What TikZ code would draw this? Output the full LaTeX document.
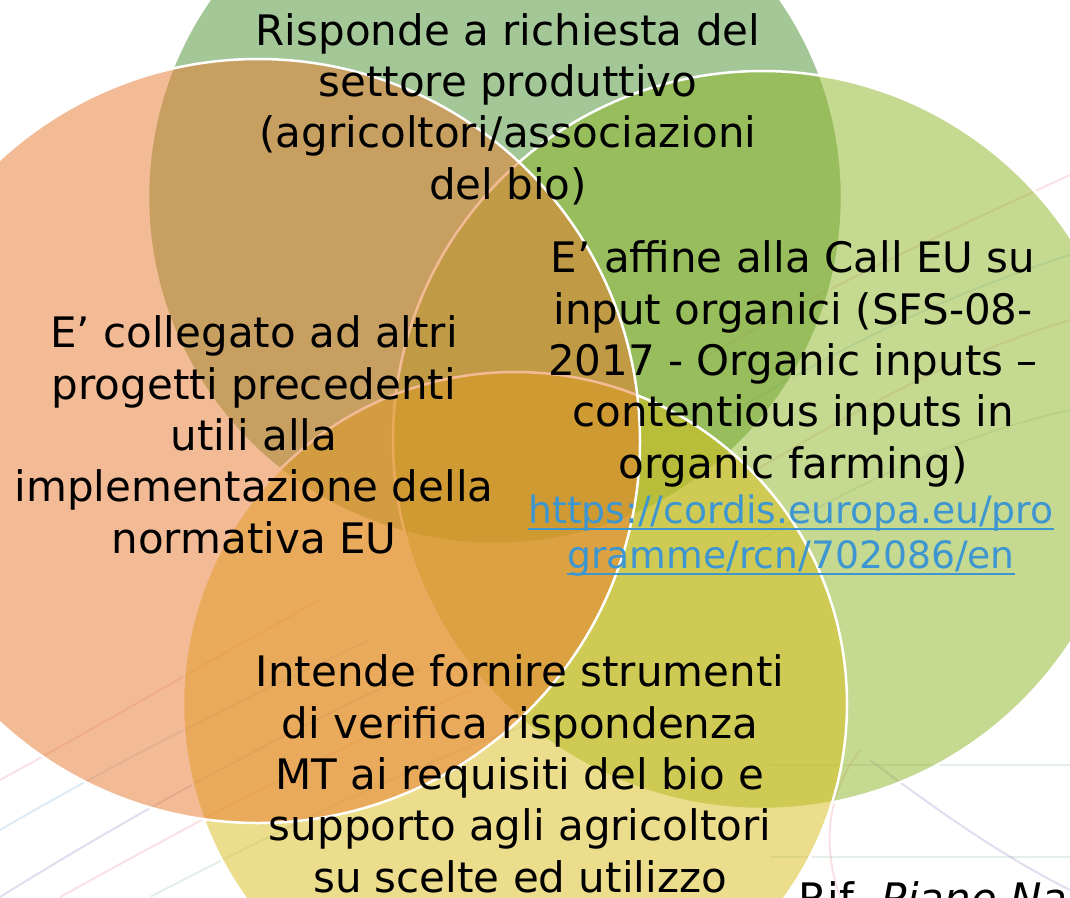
\documentclass[tikz,border=0pt]{standalone}
\usepackage{fontspec}
\setmainfont{DejaVu Sans}[ItalicFont={DejaVu Sans Oblique}]
\newsavebox{\lnkbox}
\newcommand{\lnkul}[1]{\sbox{\lnkbox}{#1}\rlap{\raisebox{-7.3pt}{\rule{\wd\lnkbox}{2.6pt}}}\usebox{\lnkbox}}
\definecolor{cgreen}{RGB}{75,145,49}
\definecolor{clight}{RGB}{141,181,37}
\definecolor{cyellow}{RGB}{217,189,25}
\definecolor{csalmon}{RGB}{233,121,45}
\definecolor{clink}{RGB}{62,150,208}
\definecolor{bgpink}{RGB}{240,170,180}
\definecolor{bgblue}{RGB}{160,200,230}
\definecolor{bgpurple}{RGB}{170,160,210}
\definecolor{bggreen}{RGB}{180,210,190}
\tikzset{
  venn/.style={fill=#1, fill opacity=0.5, draw=white, line width=2.5pt},
  bgline/.style={draw=#1, line width=2pt, opacity=0.35},
  lbl/.style={align=center, text=black, inner sep=0pt, anchor=base,
    font=\fontsize{42}{51.3}\selectfont},
  linklbl/.style={align=center, text=clink, inner sep=0pt, anchor=base,
    font=\fontsize{37.7}{45}\selectfont}
}
\begin{document}
\begin{tikzpicture}[x=1pt,y=-1pt]
\useasboundingbox (0,0) rectangle (1070,897);
\clip (0,0) rectangle (1070,897);
\fill[white] (0,0) rectangle (1070,897);
% faint background swirl lines
\draw[bgline=bgpink] (0,780) .. controls (110,720) and (210,660) .. (320,600);
\draw[bgline=bgblue] (0,830) .. controls (120,760) and (240,700) .. (370,640);
\draw[bgline=bgpurple] (0,897) .. controls (140,810) and (270,740) .. (420,670);
\draw[bgline=bgpink] (60,897) .. controls (200,820) and (330,750) .. (470,690);
\draw[bgline=bggreen] (150,897) .. controls (280,830) and (400,770) .. (540,720);
\draw[bgline=bgpink] (700,360) .. controls (820,290) and (950,230) .. (1070,175);
\draw[bgline=bgblue] (720,420) .. controls (850,340) and (960,290) .. (1070,255);
\draw[bgline=bgpink] (740,480) .. controls (870,400) and (970,350) .. (1070,320);
\draw[bgline=bggreen] (760,540) .. controls (880,470) and (980,430) .. (1070,410);
\draw[bgline=bggreen] (770,765) -- (1070,765);
\draw[bgline=bggreen] (770,857) -- (1070,857);
\draw[bgline=bgpurple] (870,760) .. controls (950,820) and (1010,860) .. (1070,890);
\draw[bgline=bgpink] (840,897) .. controls (820,840) and (830,790) .. (860,750);
% Venn circles
\path[venn=cgreen] (495,197) circle[radius=347];
\path[venn=clight] (762,440) circle[radius=369];
\path[venn=cyellow] (515,704) circle[radius=332];
\path[venn=csalmon] (258,441) circle[radius=382];
% texts (anchor=base is the baseline of the last line)
\node[lbl] (top) at (508,199) {Risponde a richiesta del\\settore produttivo\\(agricoltori/associazioni\\del bio)};
\node[lbl] (left) at (254,553) {E’ collegato ad altri\\progetti precedenti\\utili alla\\implementazione della\\normativa EU};
\node[lbl] (right) at (793,478) {E’ affine alla Call EU su\\input organici (SFS-08-\\2017 - Organic inputs –\\contentious inputs in\\organic farming)};
\node[linklbl] (link) at (791,568) {\lnkul{https://cordis.europa.eu/pro}\\\lnkul{gramme/rcn/702086/en}};
\node[lbl, align=left, anchor=base west] (rif) at (798,913) {Rif. \textit{Piano Nazionale}};
\node[lbl] (bottom) at (520,892) {Intende fornire strumenti\\di verifica rispondenza\\MT ai requisiti del bio e\\supporto agli agricoltori\\su scelte ed utilizzo};
\end{tikzpicture}
\end{document}
